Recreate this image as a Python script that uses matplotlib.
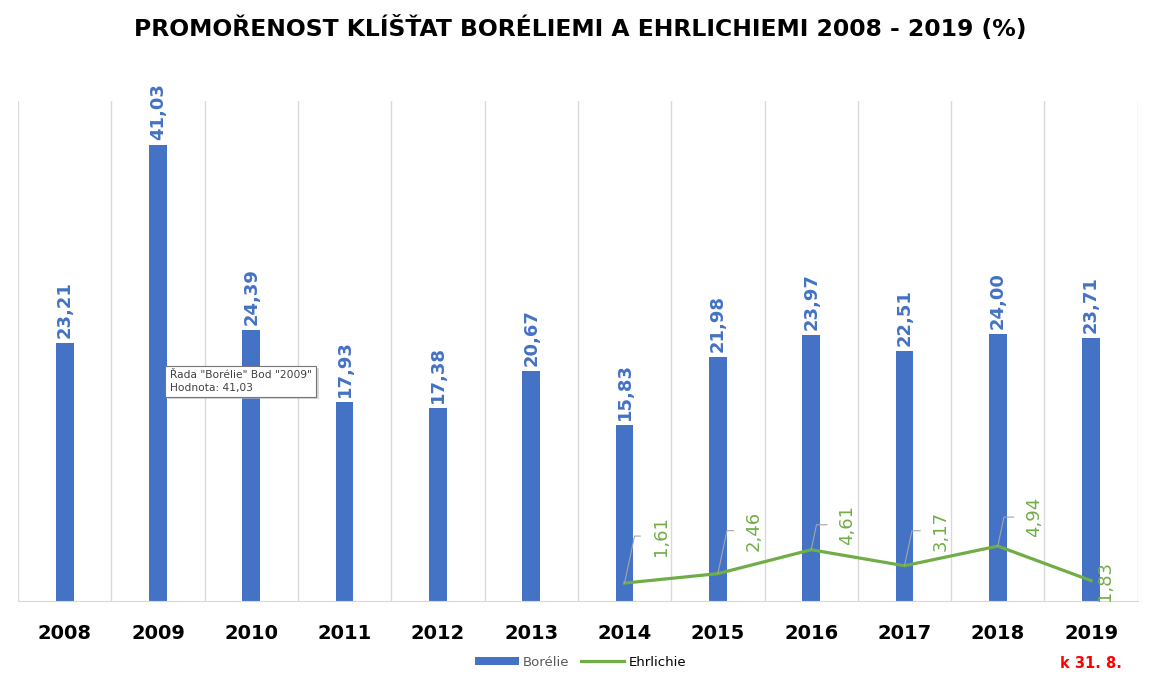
import matplotlib.pyplot as plt
import numpy as np

years = ["2008", "2009", "2010", "2011", "2012", "2013", "2014", "2015", "2016", "2017", "2018", "2019"]
borelie = [23.21, 41.03, 24.39, 17.93, 17.38, 20.67, 15.83, 21.98, 23.97, 22.51, 24.00, 23.71]
ehrl_years = ["2014", "2015", "2016", "2017", "2018", "2019"]
ehrlichie = [1.61, 2.46, 4.61, 3.17, 4.94, 1.83]

BLUE = "#4472C4"
GREEN = "#70AD47"


def cz(v):
    return "{:.2f}".format(v).replace(".", ",")


fig = plt.figure(figsize=(11.61, 6.82), dpi=100)
ax = fig.add_axes([0.0155, 0.1188, 0.9645, 0.7332])

x = np.arange(len(years))
bars = ax.bar(x, borelie, width=0.19, color=BLUE, label="Borélie", zorder=2)

ex = np.array([years.index(y) for y in ehrl_years])
line, = ax.plot(ex, ehrlichie, color=GREEN, lw=2.3, label="Ehrlichie", zorder=3)

# popisky sloupcu
for xi, v in zip(x, borelie):
    ax.annotate(cz(v), (xi, v), xytext=(0, 5), textcoords="offset pixels",
                rotation=90, ha="center", va="bottom", color=BLUE,
                fontsize=13, fontweight="bold")

# popisky cary s odkazovymi carami
offs = [(36, 47), (36, 43), (36, 25), (36, 35), (36, 29), (14, 0)]
for xi, v, (dx, dy) in zip(ex, ehrlichie, offs):
    lead = dy != 0
    ax.annotate(cz(v), (xi, v), xytext=(dx, dy), textcoords="offset pixels",
                rotation=90, ha="center", va="center", color=GREEN, fontsize=13,
                arrowprops=dict(arrowstyle="-", color="#A6A6A6", lw=0.8,
                                shrinkA=6, shrinkB=0,
                                connectionstyle="angle,angleA=0,angleB=78,rad=0")
                if lead else None)

ax.set_xlim(-0.5, len(years) - 0.5)
ax.set_ylim(0, 45)
ax.set_xticks(np.arange(len(years) + 1) - 0.5)
ax.set_xticklabels([])
ax.tick_params(axis="x", length=0)
ax.grid(axis="x", color="#D9D9D9", lw=1, zorder=0)
ax.set_yticks([])
for s in ["top", "right", "left"]:
    ax.spines[s].set_visible(False)
ax.spines["bottom"].set_color("#D9D9D9")

for xi, y in zip(x, years):
    ax.text(xi, -2.1, y, ha="center", va="top", fontsize=14, fontweight="bold",
            color="black")
ax.text(x[-1], -4.95, "k 31. 8.", ha="center", va="top", fontsize=10.5,
        fontweight="bold", color="red")

fig.text(0.5, 0.958, "PROMOŘENOST KLÍŠŤAT BORÉLIEMI A EHRLICHIEMI 2008 - 2019 (%)",
         ha="center", va="center", fontsize=16.9, fontweight="bold")

leg = fig.legend([bars, line], ["Borélie", "Ehrlichie"], loc="center",
                 bbox_to_anchor=(0.5, 0.029), ncol=2, frameon=False,
                 fontsize=9.5, handlelength=3.3, handleheight=0.6,
                 columnspacing=0.9, handletextpad=0.3)
leg.get_texts()[0].set_color("#595959")

# tooltip z Excelu
tip = 'Řada "Borélie" Bod "2009"\nHodnota: 41,03'
fig.text(0.1485, 0.4375, tip, fontsize=7.7, color="none", va="center", ha="left",
         linespacing=1.35,
         bbox=dict(boxstyle="square,pad=0.4", fc="#BFBFBF", ec="none", alpha=0.6))
fig.text(0.146, 0.441, tip, fontsize=7.7, color="#404040", va="center", ha="left",
         linespacing=1.35,
         bbox=dict(boxstyle="square,pad=0.4", fc="white", ec="#767676", lw=0.8))

fig.savefig("out.png", dpi=100)
